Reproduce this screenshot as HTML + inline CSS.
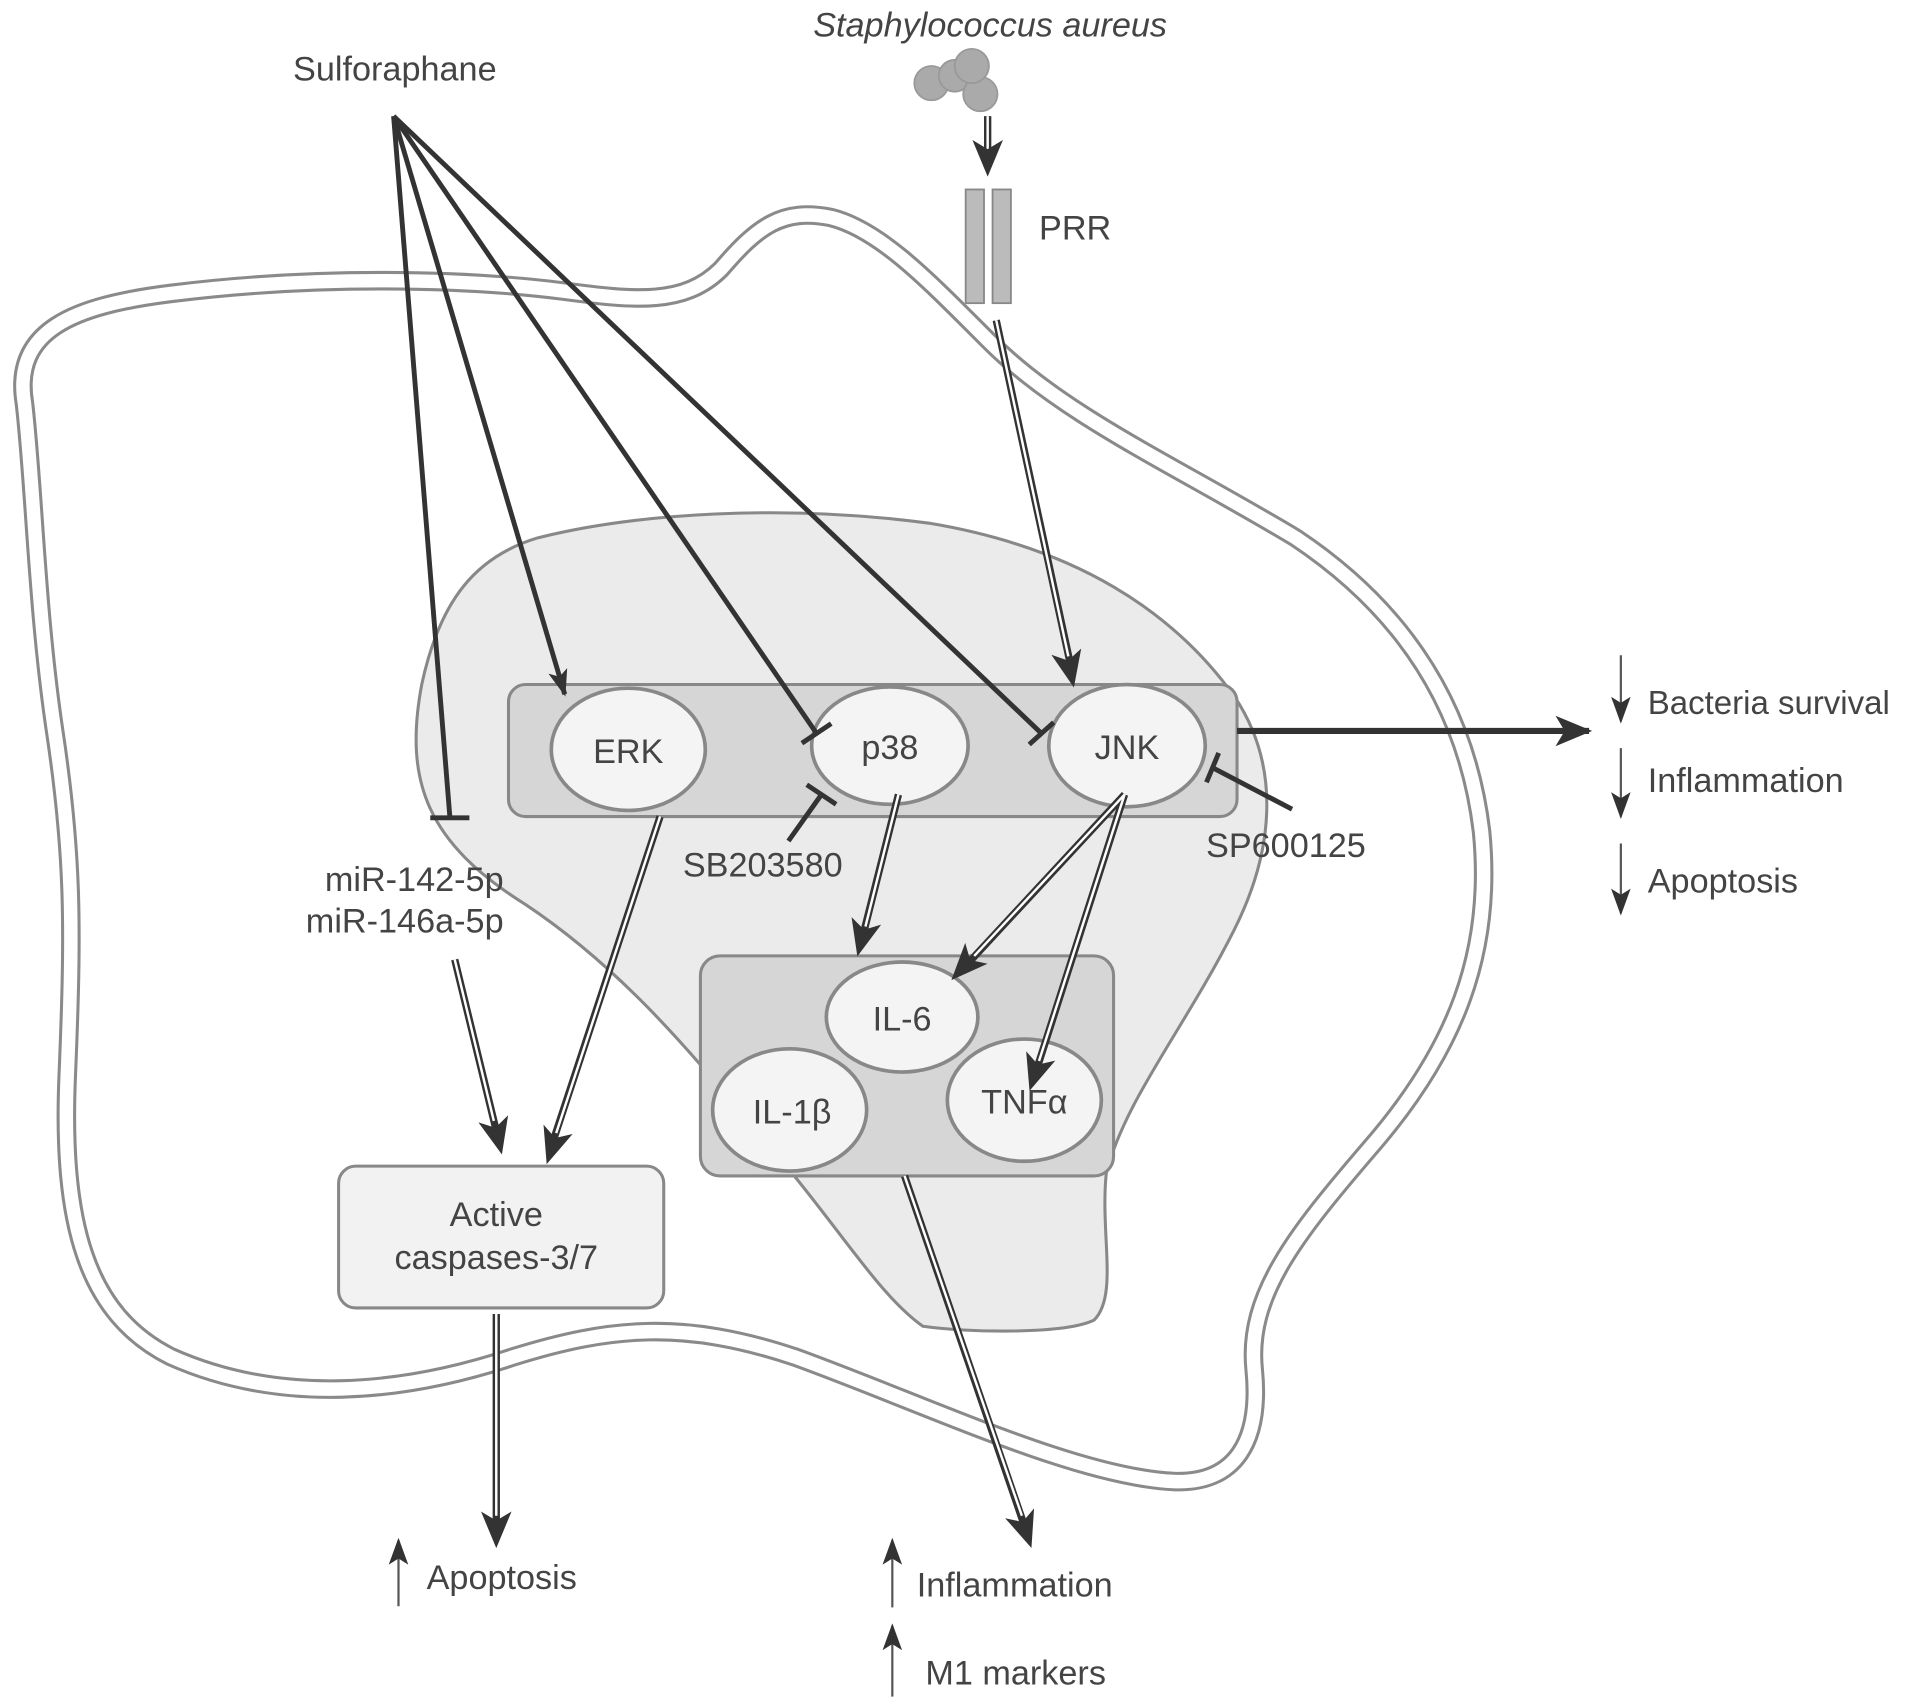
<!DOCTYPE html>
<html><head><meta charset="utf-8"><style>
html,body{margin:0;padding:0;background:#fff;}
svg{display:block;}
text{font-family:"Liberation Sans",sans-serif;fill:#444;}
</style></head><body>
<svg width="1913" height="1704" viewBox="0 0 1565 1394" preserveAspectRatio="none" xmlns="http://www.w3.org/2000/svg">
<defs>
<marker id="ah" markerUnits="userSpaceOnUse" markerWidth="30" markerHeight="30" refX="22" refY="10" orient="auto" viewBox="0 0 24 20">
<path d="M0,0 L24,10 L0,20 L6,10 Z" fill="#333"/></marker>
<marker id="as" markerUnits="userSpaceOnUse" markerWidth="22" markerHeight="22" refX="20" refY="8" orient="auto" viewBox="0 0 22 16">
<path d="M0,0 L22,8 L0,16 L5,8 Z" fill="#333"/></marker>
</defs>

<!-- cell membrane -->
<path d="M20,330 C10,270 60,250 140,240 C260,225 380,228 460,238 C520,246 560,250 590,220 C620,185 640,170 680,178 C720,188 760,230 810,280 C870,340 960,380 1060,440 C1150,500 1200,580 1212,680 C1222,780 1190,860 1120,940 C1060,1010 1020,1060 1026,1120 C1032,1180 1010,1214 960,1212 C880,1208 760,1150 650,1110 C560,1080 500,1085 420,1110 C330,1140 230,1150 140,1110 C70,1075 50,1000 55,880 C60,760 60,700 45,600 C30,500 28,400 20,330 Z" fill="none" stroke="#8a8a8a" stroke-width="16"/>
<path d="M20,330 C10,270 60,250 140,240 C260,225 380,228 460,238 C520,246 560,250 590,220 C620,185 640,170 680,178 C720,188 760,230 810,280 C870,340 960,380 1060,440 C1150,500 1200,580 1212,680 C1222,780 1190,860 1120,940 C1060,1010 1020,1060 1026,1120 C1032,1180 1010,1214 960,1212 C880,1208 760,1150 650,1110 C560,1080 500,1085 420,1110 C330,1140 230,1150 140,1110 C70,1075 50,1000 55,880 C60,760 60,700 45,600 C30,500 28,400 20,330 Z" fill="none" stroke="#ffffff" stroke-width="11"/>

<!-- nucleus region -->
<path d="M440,440 C520,420 640,412 760,428 C880,448 960,500 1010,570 C1050,630 1040,700 1010,760 C970,840 920,900 905,960 C900,1010 915,1060 895,1080 C870,1092 790,1090 755,1085 C720,1060 690,1010 640,950 C580,880 520,800 430,740 C350,690 330,640 345,560 C360,490 390,455 440,440 Z" fill="#ebebeb" stroke="#888" stroke-width="2.5"/>

<!-- MAPK box -->
<rect x="416" y="560" width="596" height="108" rx="14" fill="#d6d6d6" stroke="#888" stroke-width="2.5"/>
<ellipse cx="514" cy="613" rx="63" ry="50" fill="#f4f4f4" stroke="#888" stroke-width="3"/>
<ellipse cx="728" cy="610" rx="64" ry="48" fill="#f4f4f4" stroke="#888" stroke-width="3"/>
<ellipse cx="922" cy="610" rx="64" ry="50" fill="#f4f4f4" stroke="#888" stroke-width="3"/>
<text x="514" y="624" font-size="28" text-anchor="middle">ERK</text>
<text x="728" y="621" font-size="28" text-anchor="middle">p38</text>
<text x="922" y="621" font-size="28" text-anchor="middle">JNK</text>

<!-- cytokine box -->
<rect x="573" y="782" width="338" height="180" rx="16" fill="#d6d6d6" stroke="#888" stroke-width="2.5"/>
<ellipse cx="738" cy="832" rx="62" ry="45" fill="#f4f4f4" stroke="#888" stroke-width="3"/>
<ellipse cx="646" cy="908" rx="63" ry="50" fill="#f4f4f4" stroke="#888" stroke-width="3"/>
<ellipse cx="838" cy="900" rx="63" ry="50" fill="#f4f4f4" stroke="#888" stroke-width="3"/>
<text x="738" y="843" font-size="28" text-anchor="middle">IL-6</text>
<text x="648" y="919" font-size="28" text-anchor="middle">IL-1β</text>
<text x="838" y="911" font-size="28" text-anchor="middle">TNFα</text>

<!-- caspases box -->
<rect x="277" y="954" width="266" height="116" rx="14" fill="#f2f2f2" stroke="#888" stroke-width="2.5"/>
<text x="406" y="1003" font-size="28" text-anchor="middle">Active</text>
<text x="406" y="1038" font-size="28" text-anchor="middle">caspases-3/7</text>

<!-- S aureus -->
<text x="810" y="30" font-size="28" font-style="italic" text-anchor="middle">Staphylococcus aureus</text>
<g fill="#aaa" stroke="#999" stroke-width="1.5">
<circle cx="762" cy="68" r="14"/><circle cx="781" cy="62" r="13"/><circle cx="802" cy="77" r="14"/><circle cx="795" cy="54" r="14"/>
</g>
<!-- PRR -->
<rect x="790" y="155" width="15" height="93" fill="#bbb" stroke="#888" stroke-width="1.5"/>
<rect x="812" y="155" width="15" height="93" fill="#bbb" stroke="#888" stroke-width="1.5"/>
<text x="850" y="196" font-size="28">PRR</text>

<!-- Sulforaphane -->
<text x="323" y="66" font-size="28" text-anchor="middle">Sulforaphane</text>
<g stroke="#333" stroke-width="4" fill="none">
<line x1="322" y1="95" x2="368" y2="668"/>
<line x1="352" y1="669" x2="384" y2="669"/>
<line x1="322" y1="95" x2="462" y2="568" marker-end="url(#as)"/>
<line x1="322" y1="95" x2="668" y2="600"/>
<line x1="656" y1="608" x2="680" y2="592"/>
<line x1="322" y1="95" x2="852" y2="600"/>
<line x1="842" y1="609" x2="862" y2="591"/>
<line x1="645" y1="688" x2="672" y2="650"/>
<line x1="660" y1="642" x2="684" y2="658"/>
<line x1="1057" y1="662" x2="992" y2="628"/>
<line x1="987" y1="640" x2="997" y2="616"/>
</g>
<line x1="1012" y1="598" x2="1300" y2="598" stroke="#333" stroke-width="5" marker-end="url(#ah)"/>
<text x="624" y="717" font-size="28" text-anchor="middle">SB203580</text>
<text x="1052" y="701" font-size="28" text-anchor="middle">SP600125</text>
<text x="412" y="729" font-size="28" text-anchor="end">miR-142-5p</text>
<text x="412" y="763" font-size="28" text-anchor="end">miR-146a-5p</text>

<!-- double arrows -->
<g fill="none">
<g stroke="#333" stroke-width="6">
<line x1="808" y1="95" x2="808" y2="130"/>
<line x1="815" y1="262" x2="876" y2="545"/>
<line x1="540" y1="668" x2="452" y2="935"/>
<line x1="735" y1="650" x2="706" y2="765"/>
<line x1="920" y1="650" x2="792" y2="788"/>
<line x1="920" y1="650" x2="848" y2="875"/>
<line x1="372" y1="785" x2="406" y2="925"/>
<line x1="406" y1="1075" x2="406" y2="1248"/>
<line x1="740" y1="962" x2="838" y2="1248"/>
</g>
<g stroke="#fff" stroke-width="2">
<line x1="808" y1="95" x2="808" y2="124"/>
<line x1="815" y1="262" x2="874" y2="537"/>
<line x1="540" y1="668" x2="455" y2="927"/>
<line x1="735" y1="650" x2="708" y2="758"/>
<line x1="920" y1="650" x2="797" y2="782"/>
<line x1="920" y1="650" x2="850" y2="868"/>
<line x1="372" y1="785" x2="404" y2="917"/>
<line x1="406" y1="1075" x2="406" y2="1240"/>
<line x1="740" y1="962" x2="836" y2="1240"/>
</g>
<g stroke="none">
<line x1="808" y1="95" x2="808" y2="142" marker-end="url(#ah)"/>
<line x1="815" y1="262" x2="878" y2="560" marker-end="url(#ah)"/>
<line x1="540" y1="668" x2="448" y2="950" marker-end="url(#ah)"/>
<line x1="735" y1="650" x2="702" y2="780" marker-end="url(#ah)"/>
<line x1="920" y1="650" x2="780" y2="800" marker-end="url(#ah)"/>
<line x1="920" y1="650" x2="843" y2="890" marker-end="url(#ah)"/>
<line x1="372" y1="785" x2="410" y2="942" marker-end="url(#ah)"/>
<line x1="406" y1="1075" x2="406" y2="1264" marker-end="url(#ah)"/>
<line x1="740" y1="962" x2="843" y2="1264" marker-end="url(#ah)"/>
</g>
</g>

<g stroke="#555" stroke-width="1.8">
<line x1="1326" y1="536" x2="1326" y2="590" marker-end="url(#as)"/>
<line x1="1326" y1="612" x2="1326" y2="668" marker-end="url(#as)"/>
<line x1="1326" y1="690" x2="1326" y2="747" marker-end="url(#as)"/>
<line x1="326" y1="1314" x2="326" y2="1260" marker-end="url(#as)"/>
<line x1="730" y1="1315" x2="730" y2="1260" marker-end="url(#as)"/>
<line x1="730" y1="1388" x2="730" y2="1330" marker-end="url(#as)"/>
</g>
<text x="1348" y="584" font-size="27">Bacteria survival</text>
<text x="1348" y="648" font-size="28">Inflammation</text>
<text x="1348" y="730" font-size="28">Apoptosis</text>
<text x="349" y="1300" font-size="28">Apoptosis</text>
<text x="750" y="1306" font-size="28">Inflammation</text>
<text x="757" y="1378" font-size="28">M1 markers</text>
</svg>
</body></html>
